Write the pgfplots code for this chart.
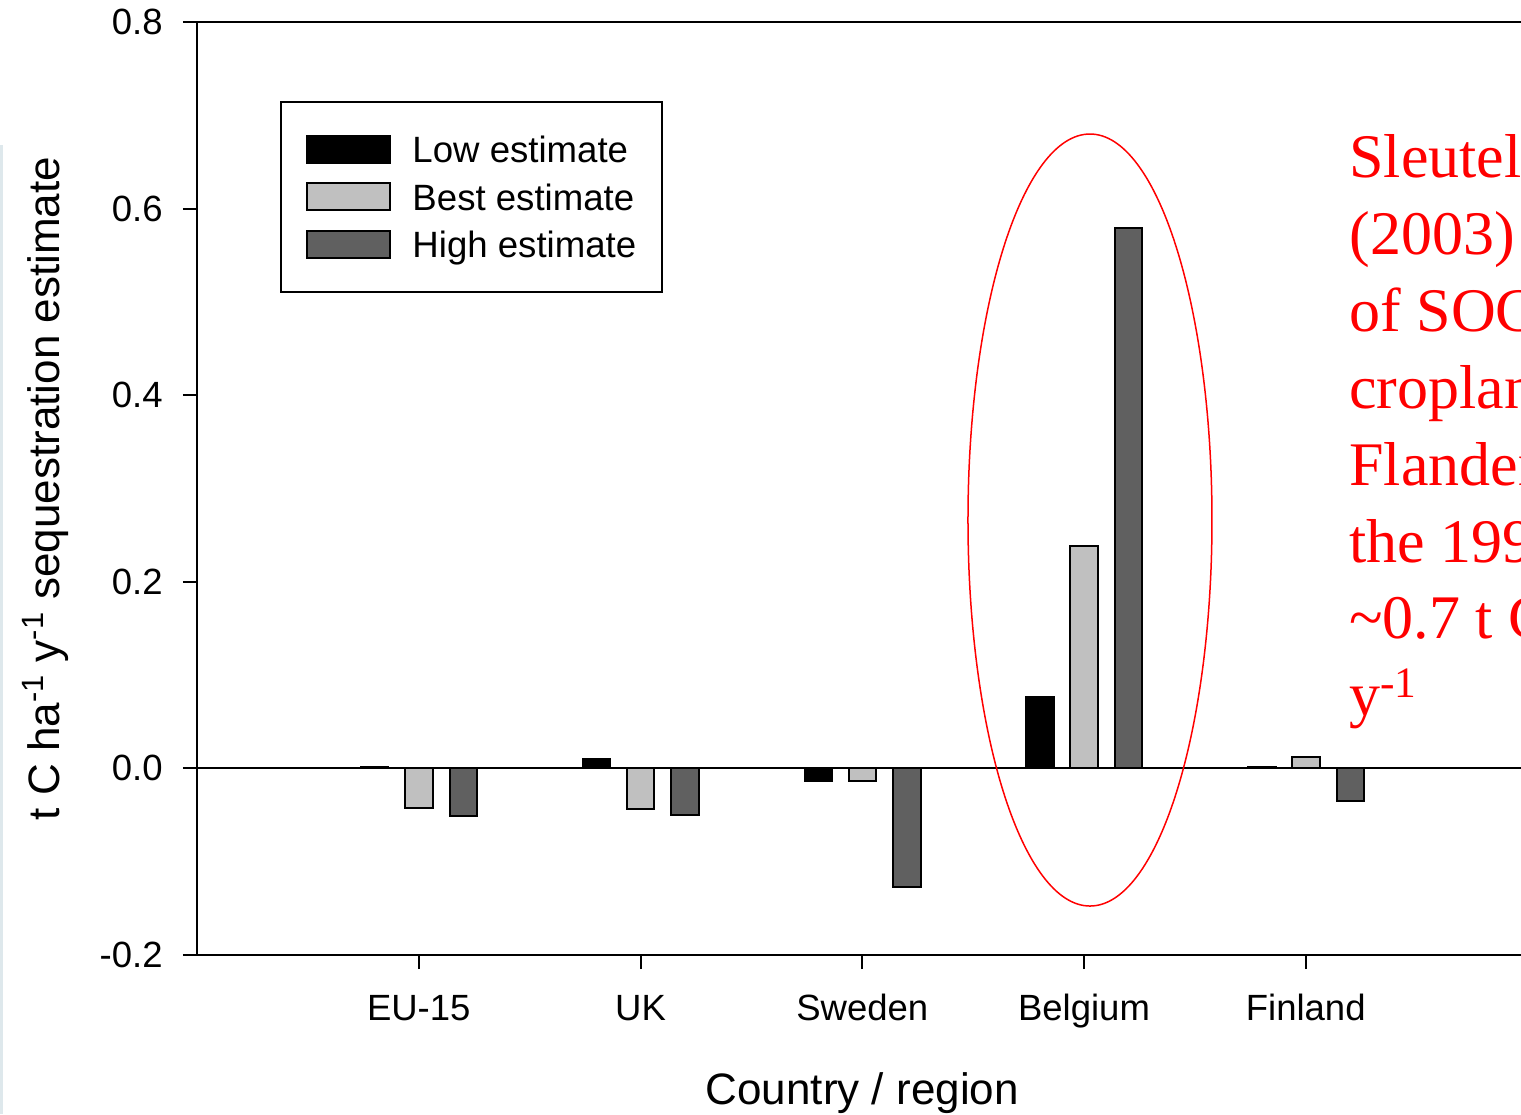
\documentclass[border=0pt]{standalone}
\usepackage{pgfplots}
\pgfplotsset{compat=1.18}
\usepackage{fontspec}
\setmainfont{Liberation Sans}
\newfontfamily\timesfont{Liberation Serif}
\definecolor{bestgray}{RGB}{192,192,192}
\definecolor{highgray}{RGB}{96,96,96}
\definecolor{edgeline}{RGB}{222,232,236}
\begin{document}
\begin{tikzpicture}
\useasboundingbox (-98.5pt,-79.5pt) rectangle (662pt,477.5pt);
\clip (-98.5pt,-79.5pt) rectangle (662pt,477.5pt);
\draw[edgeline, line width=1.5pt] (-97.75pt,-79.5pt) -- (-97.75pt,405pt);
\begin{axis}[
  at={(0pt,0pt)}, anchor=south west,
  scale only axis, width=665.25pt, height=466.5pt,
  xmin=0, xmax=6, ymin=-0.2, ymax=0.8,
  xtick={1,2,3,4,5}, xticklabels={EU-15,UK,Sweden,Belgium,Finland},
  ytick={-0.2,0,0.2,0.4,0.6,0.8}, yticklabels={-0.2,0.0,0.2,0.4,0.6,0.8},
  tick align=outside, xtick pos=left, ytick pos=left,
  major tick length=7pt,
  tick style={line width=1pt, black},
  axis line style={line width=1.2pt},
  ticklabel style={font=\fontsize{18.25}{20}\selectfont},
  xticklabel style={anchor=north, inner sep=0pt, text height=13.1pt, text depth=0pt, yshift=-12.5pt},
  yticklabel style={anchor=east, inner sep=0pt, xshift=-10pt},
  xlabel={Country / region},
  xlabel style={at={(axis description cs:0.5,-0.1597)}, anchor=base, inner sep=0pt, font=\fontsize{22}{26}\selectfont},
  ylabel={t C ha\textsuperscript{-1} y\textsuperscript{-1} sequestration estimate},
  ylabel style={at={(axis description cs:-0.10372,0.5)}, anchor=base, inner sep=0pt, font=\fontsize{22}{26}\selectfont},
  ybar, bar width=13.75pt,
  legend style={at={(0.06238,0.91533)}, anchor=north west, draw=black, line width=1pt,
    inner xsep=12.75pt, inner ysep=16.5pt, font=\fontsize{18.3}{20}\selectfont,
    /tikz/row sep=9.25pt, /tikz/column sep=10.5pt,
    nodes={inner sep=0pt, text height=13.25pt, text depth=0pt}},
  legend cell align=left,
  legend image code/.code={\draw[#1, line width=1pt] (0pt,-6.75pt) rectangle (41.5pt,6.75pt);},
]
\addplot[fill=black, draw=black, line width=1pt, bar shift=-22pt] coordinates {(1,0.002) (2,0.010) (3,-0.014) (4,0.0764) (5,0.0015)};
\addplot[fill=bestgray, draw=black, line width=1pt, bar shift=0pt] coordinates {(1,-0.042) (2,-0.0436) (3,-0.0136) (4,0.238) (5,0.012)};
\addplot[fill=highgray, draw=black, line width=1pt, bar shift=22.25pt] coordinates {(1,-0.051) (2,-0.0496) (3,-0.1276) (4,0.579) (5,-0.0347)};
\legend{Low estimate, Best estimate, High estimate}
\draw[line width=1pt] (axis cs:0,0) -- (axis cs:6,0);
\draw[red, line width=0.75pt] (axis cs:4.027,0.2662) ellipse [x radius=61pt, y radius=193pt];
\end{axis}
\begin{scope}[every node/.style={anchor=base west, inner sep=0pt, text=red, font=\timesfont\fontsize{31}{38}\selectfont}]
\node at (576pt,388.5pt) {Sleutel et al.};
\node at (576pt,350.1pt) {(2003) found};
\node at (576pt,311.65pt) {of SOC increase in};
\node at (576pt,273.25pt) {cropland in};
\node at (576pt,234.85pt) {Flanders during};
\node at (576pt,196.4pt) {the 1990s of};
\node at (576pt,158pt) {\textasciitilde0.7 t C ha\textsuperscript{-1}};
\node at (576pt,119.6pt) {y\textsuperscript{-1}};
\end{scope}
\end{tikzpicture}
\end{document}
